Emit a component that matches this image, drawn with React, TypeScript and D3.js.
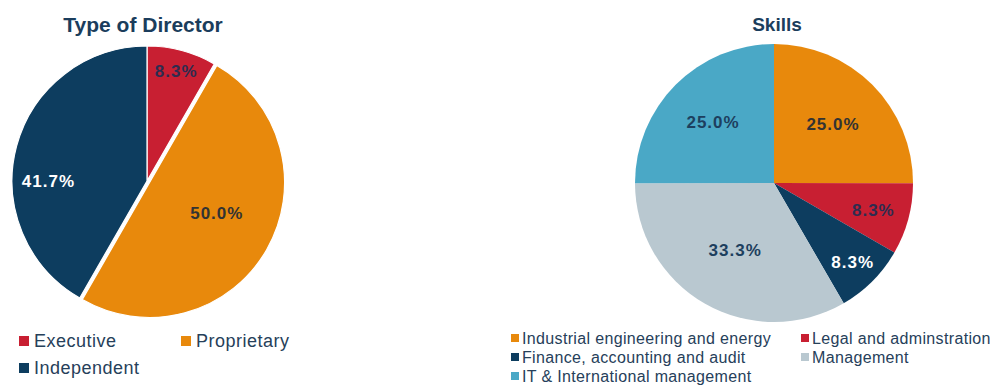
import React from "react";
import * as d3 from "d3";

const directorCategories = ["Executive", "Proprietary", "Independent"];
const directorValues = [8.3, 50.0, 41.7];
const directorColors = ["#c81f32", "#e8890c", "#0d3d5f"];

const skillCategories = [
  "Industrial engineering and energy",
  "Legal and adminstration",
  "Finance, accounting and audit",
  "Management",
  "IT & International management",
];
const skillValues = [25.0, 8.3, 8.3, 33.3, 25.0];
const skillColors = ["#e8890c", "#c81f32", "#0d3d5f", "#b9c8d0", "#4aa8c6"];

const W = 994;
const H = 385;
const FONT = "Liberation Sans, Arial, sans-serif";
const TITLE_COLOR = "#1b3d5c";
const TEXT_COLOR = "#26405a";

// label styling per slice (radius factor, angle shift in degrees, colour)
const directorLabelR = [0.84, 0.57, 0.73];
const directorLabelShift = [0, -5, -15];
const directorLabelColor = ["#2e2c50", "#333333", "#ffffff"];
const directorExplode = [0, 3, 0];
const skillLabelR = [0.6, 0.74, 0.8, 0.56, 0.62];
const skillLabelShift = [0, 0, 0, 0, 0];
const skillLabelColor = ["#333333", "#2e2c50", "#ffffff", "#1d3f5e", "#1d3f5e"];

function Pie({ cx, cy, r, values, colors, labelR, labelShift, labelColor, explode, stroke }) {
  const pie = d3.pie<number>().sort(null).value((d) => d);
  const arcs = pie(values);
  const arc = d3.arc<any>().innerRadius(0).outerRadius(r);
  return (
    <g transform={`translate(${cx},${cy})`}>
      {arcs.map((a, i) => {
        const mid = (a.startAngle + a.endAngle) / 2;
        const ex = explode ? explode[i] : 0;
        const ox = Math.sin(mid) * ex;
        const oy = -Math.cos(mid) * ex;
        return (
          <path
            key={i}
            d={arc(a) as string}
            fill={colors[i]}
            transform={`translate(${ox},${oy})`}
            stroke={stroke ? "#ffffff" : "none"}
            strokeWidth={stroke ? 1.2 : 0}
          />
        );
      })}
      {arcs.map((a, i) => {
        const mid = (a.startAngle + a.endAngle) / 2 + (labelShift[i] * Math.PI) / 180;
        const lr = r * labelR[i];
        const x = Math.sin(mid) * lr;
        const y = -Math.cos(mid) * lr;
        return (
          <text
            key={"l" + i}
            x={x}
            y={y}
            dy="0.35em"
            textAnchor="middle"
            fontFamily={FONT}
            fontWeight="bold"
            fontSize={17}
            letterSpacing={1}
            fill={labelColor[i]}
          >
            {values[i].toFixed(1) + "%"}
          </text>
        );
      })}
    </g>
  );
}

export default function App() {
  return (
    <svg
      width={W}
      height={H}
      style={{ position: "absolute", left: 0, top: 0, display: "block", background: "#ffffff" }}
    >
      <rect width={W} height={H} fill="#ffffff" />
      <text x={143} y={32} textAnchor="middle" fontFamily={FONT} fontWeight="bold" fontSize={21} fill={TITLE_COLOR}>
        Type of Director
      </text>
      <text x={777} y={31} textAnchor="middle" fontFamily={FONT} fontWeight="bold" fontSize={19} fill={TITLE_COLOR}>
        Skills
      </text>

      <Pie
        cx={147}
        cy={181}
        r={135}
        values={directorValues}
        colors={directorColors}
        labelR={directorLabelR}
        labelShift={directorLabelShift}
        labelColor={directorLabelColor}
        explode={directorExplode}
        stroke={true}
      />
      <Pie
        cx={774}
        cy={183}
        r={139}
        values={skillValues}
        colors={skillColors}
        labelR={skillLabelR}
        labelShift={skillLabelShift}
        labelColor={skillLabelColor}
        explode={null}
        stroke={false}
      />

      {/* left legend */}
      {directorCategories.map((c, i) => {
        const pos = [
          [19, 347],
          [181, 347],
          [19, 374],
        ][i];
        return (
          <g key={c}>
            <rect x={pos[0]} y={pos[1] - 11} width={10} height={10} fill={directorColors[i]} />
            <text x={pos[0] + 15} y={pos[1]} fontFamily={FONT} fontSize={18} letterSpacing={0.5} fill={TEXT_COLOR}>
              {c}
            </text>
          </g>
        );
      })}

      {/* right legend */}
      {skillCategories.map((c, i) => {
        const pos = [
          [511, 344],
          [801, 344],
          [511, 363],
          [801, 363],
          [511, 382],
        ][i];
        return (
          <g key={c}>
            <rect x={pos[0]} y={pos[1] - 10} width={8} height={8} fill={skillColors[i]} />
            <text x={pos[0] + 11} y={pos[1]} fontFamily={FONT} fontSize={16} letterSpacing={0.35} fill={TEXT_COLOR}>
              {c}
            </text>
          </g>
        );
      })}
    </svg>
  );
}
